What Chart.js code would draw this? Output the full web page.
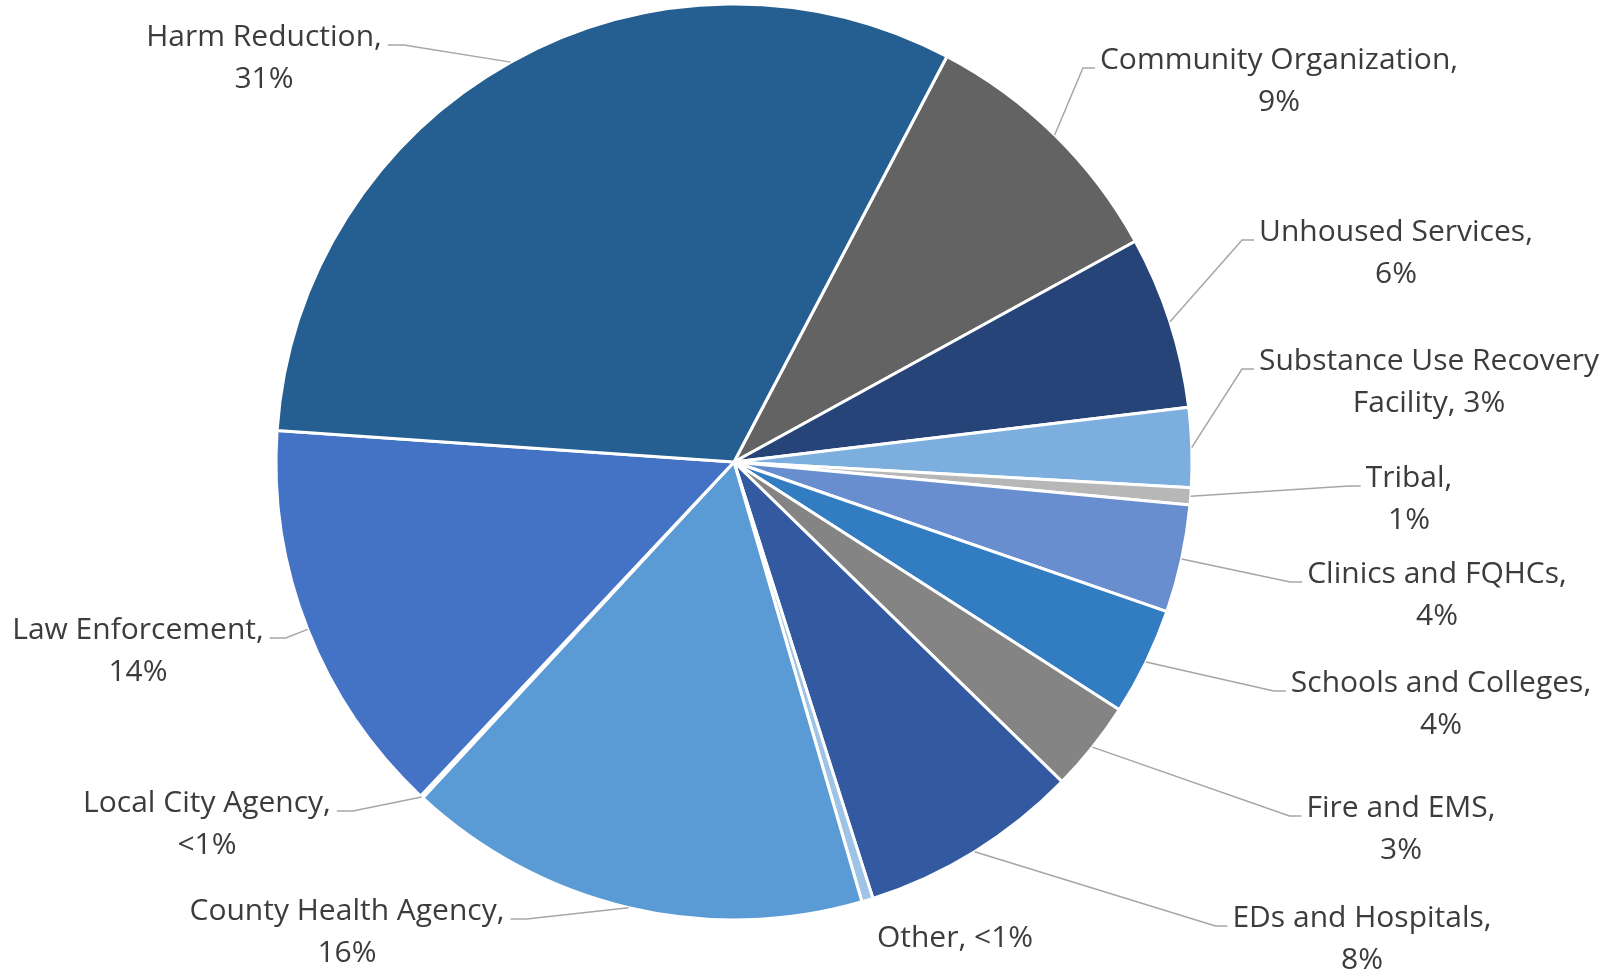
<!DOCTYPE html>
<html>
<head>
<meta charset="utf-8">
<script src="https://cdn.jsdelivr.net/npm/chart.js@4.4.1/dist/chart.umd.min.js"></script>
<style>
    body { margin: 0; background: #ffffff; }
    #wrap { width: 1611px; height: 976px; }
</style>
</head>
<body>
<div id="wrap"><canvas id="pieChart" width="1611" height="976"></canvas></div>
<script>
// slices clockwise, starting at the Community Organization edge
var categories = ['Community Organization', 'Unhoused Services', 'Substance Use Recovery Facility', 'Tribal',
    'Clinics and FQHCs', 'Schools and Colleges', 'Fire and EMS', 'EDs and Hospitals', 'Other',
    'County Health Agency', 'Local City Agency', 'Law Enforcement', 'Harm Reduction'];
var shares = [9.3, 6.1, 2.8, 0.6, 3.8, 3.8, 3.2, 7.8, 0.4, 16.4, 0.1, 14.1, 31.6];
var pctLabels = ['9%', '6%', '3%', '1%', '4%', '4%', '3%', '8%', '<1%', '16%', '<1%', '14%', '31%'];

var sliceColors = ['#636363', '#264478', '#7CAFDD', '#B7B7B7', '#698ED0', '#327DC2', '#848484',
    '#335AA1', '#9DC3E6', '#5B9BD5', '#A5A5A5', '#4472C4', '#255E91'];

// label placement: text centre x, first baseline y, words on first line (0 = one line), leader side
var labelLayout = [
    { x: 1279, y: 69, brk: -1, side: 'left' },
    { x: 1396, y: 241, brk: -1, side: 'left' },
    { x: 1429, y: 370, brk: 3, side: 'left' },
    { x: 1409, y: 487, brk: -1, side: 'left' },
    { x: 1437, y: 583, brk: -1, side: 'left' },
    { x: 1441, y: 692, brk: -1, side: 'left' },
    { x: 1401, y: 817, brk: -1, side: 'left' },
    { x: 1362, y: 927, brk: -1, side: 'left' },
    { x: 955, y: 947, brk: 0, side: 'none' },
    { x: 347, y: 920, brk: -1, side: 'right' },
    { x: 207, y: 812, brk: -1, side: 'right' },
    { x: 138, y: 639, brk: -1, side: 'right' },
    { x: 264, y: 46, brk: -1, side: 'right' }
];

var FONT = '30px "Open Sans", "Noto Sans", sans-serif';
var LINE_H = 42;

function labelLines(i) {
    var full = categories[i] + ', ' + pctLabels[i];
    var b = labelLayout[i].brk;
    if (b === 0) return [full];
    if (b < 0) return [categories[i] + ',', pctLabels[i]];
    var words = full.split(' ');
    return [words.slice(0, b).join(' '), words.slice(b).join(' ')];
}

var pieLabels = {
    id: 'pieLabels',
    afterDraw: function (chart) {
        var ctx = chart.ctx;
        var arcs = chart.getDatasetMeta(0).data;
        ctx.save();
        ctx.font = FONT;
        ctx.textAlign = 'center';
        ctx.textBaseline = 'alphabetic';
        arcs.forEach(function (arc, i) {
            var lay = labelLayout[i];
            var lines = labelLines(i);
            var mid = (arc.startAngle + arc.endAngle) / 2;
            var ax = arc.x + arc.outerRadius * Math.cos(mid);
            var ay = arc.y + arc.outerRadius * Math.sin(mid);

            if (lay.side !== 'none') {
                var w = ctx.measureText(lines[0]).width;
                var jy = lay.y - 1;
                var ex, bx;
                if (lay.side === 'right') {
                    ex = lay.x + w / 2 + 6;
                    bx = ex + 16;
                } else {
                    ex = lay.x - w / 2 - 5;
                    bx = ex - 12;
                }
                ctx.strokeStyle = '#A6A6A6';
                ctx.lineWidth = 1.5;
                ctx.beginPath();
                ctx.moveTo(ax, ay);
                ctx.lineTo(bx, jy);
                ctx.lineTo(ex, jy);
                ctx.stroke();
            }

            ctx.fillStyle = '#3C3C3C';
            lines.forEach(function (t, k) {
                ctx.fillText(t, lay.x, lay.y + k * LINE_H);
            });
        });
        ctx.restore();
    }
};

var ctx = document.getElementById('pieChart').getContext('2d');
var pieChart = new Chart(ctx, {
    type: 'pie',
    data: {
        labels: categories,
        datasets: [{
            data: shares,
            backgroundColor: sliceColors,
            borderColor: '#ffffff',
            borderWidth: 3,
            hoverOffset: 0
        }]
    },
    options: {
        responsive: false,
        animation: false,
        devicePixelRatio: 1,
        rotation: 27.7,
        radius: 458,
        layout: { padding: { left: 0, right: 143, top: 0, bottom: 52 } },
        plugins: {
            legend: { display: false },
            tooltip: { enabled: false }
        }
    },
    plugins: [pieLabels]
});
</script>
</body>
</html>
